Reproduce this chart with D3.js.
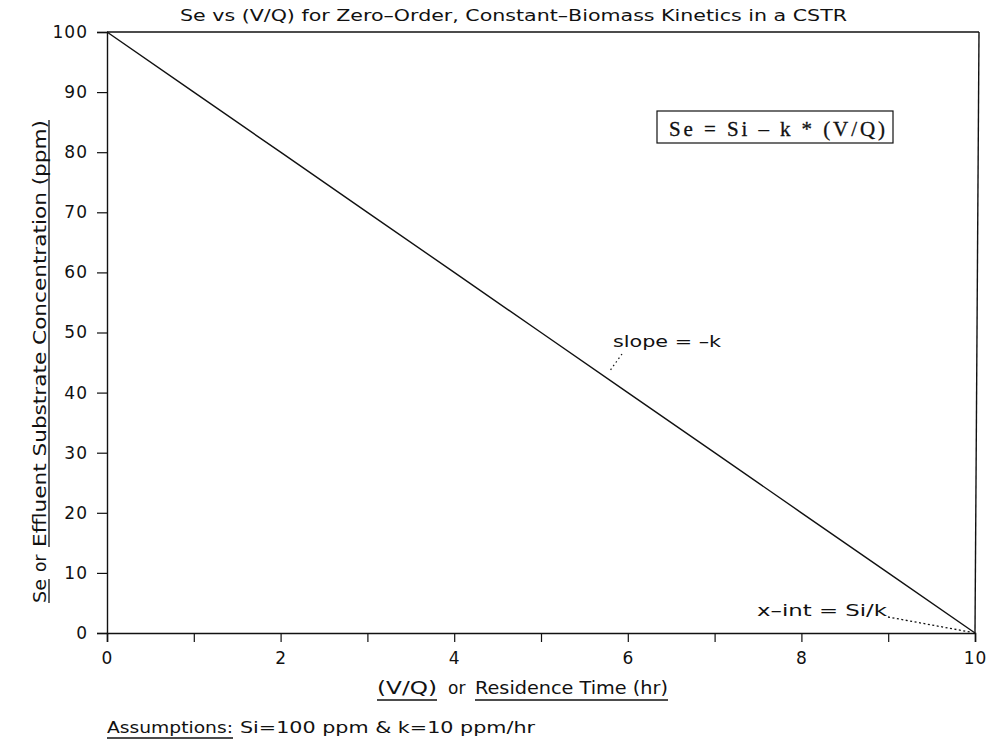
<!DOCTYPE html>
<html><head><meta charset="utf-8">
<script src="https://cdn.jsdelivr.net/npm/d3@7"></script>
<style>body{margin:0;background:#fff}svg{display:block}text{fill:#111}</style>
</head><body>
<svg id="c" width="990" height="747" font-family="DejaVu Sans, sans-serif"></svg>
<script>
const vq = [0,1,2,3,4,5,6,7,8,9,10];
const se = [100,90,80,70,60,50,40,30,20,10,0];
const xTickValues = [0,1,2,3,4,5,6,7,8,9,10];
const xTickLabels = ["0","","2","","4","","6","","8","","10"];
const yTickValues = [0,10,20,30,40,50,60,70,80,90,100];

const svg = d3.select("#c");
const x = d3.scaleLinear().domain([0,10]).range([107,975]);
const y = d3.scaleLinear().domain([0,100]).range([633,32]);
const ink = "#111";

// frame (top + right)
svg.append("line").attr("x1",x(0)).attr("x2",x(10)+4).attr("y1",y(100)).attr("y2",y(100)).attr("stroke",ink).attr("stroke-width",1.6);
svg.append("line").attr("x1",x(10)+4).attr("x2",x(10)).attr("y1",y(100)).attr("y2",y(0)).attr("stroke",ink).attr("stroke-width",1.4);

// axes
const xAxis = d3.axisBottom(x).tickValues(xTickValues).tickSize(9).tickPadding(10)
  .tickFormat((d,i)=>xTickLabels[i]);
const gx = svg.append("g").attr("transform",`translate(0,${y(0)})`).call(xAxis);
gx.attr("font-family","DejaVu Sans, sans-serif").attr("font-size",17);
gx.select(".domain").attr("stroke",ink).attr("stroke-width",1.6);
gx.selectAll(".tick line").attr("stroke",ink).attr("stroke-width",1.2);
gx.selectAll(".tick text").attr("fill",ink).attr("letter-spacing",1);

const yAxis = d3.axisLeft(y).tickValues(yTickValues).tickSize(10).tickPadding(9);
const gy = svg.append("g").attr("transform",`translate(${x(0)},0)`).call(yAxis);
gy.attr("font-family","DejaVu Sans, sans-serif").attr("font-size",17);
gy.select(".domain").attr("stroke",ink).attr("stroke-width",1.4);
gy.selectAll(".tick line").attr("stroke",ink).attr("stroke-width",1.2);
gy.selectAll(".tick text").attr("fill",ink).attr("letter-spacing",1);

// data line
const line = d3.line().x((d,i)=>x(vq[i])).y(d=>y(d));
svg.append("path").datum(se).attr("d",line).attr("fill","none").attr("stroke",ink).attr("stroke-width",1.4);

// title
svg.append("text").attr("x",180).attr("y",21).attr("font-size",16).attr("textLength",667).attr("lengthAdjust","spacingAndGlyphs")
  .text("Se vs (V/Q) for Zero\u2013Order, Constant\u2013Biomass Kinetics in a CSTR");

// helper for underlined segments
function seg(txt, x0, x1, yb, size, underline, ul){
  svg.append("text").attr("x",x0).attr("y",yb).attr("font-size",size)
    .attr("textLength",x1-x0).attr("lengthAdjust","spacingAndGlyphs").text(txt);
  if(underline) svg.append("line").attr("x1",x0).attr("x2",x1).attr("y1",ul).attr("y2",ul).attr("stroke",ink).attr("stroke-width",1.3);
}
// x label
seg("(V/Q)",377,437,694,17,true,700);
svg.append("text").attr("x",448).attr("y",694).attr("font-size",17).text("or");
seg("Residence Time (hr)",475,668,694,17,true,700);
// assumptions
seg("Assumptions:",107,233,733,15,true,738);
seg("Si=100 ppm & k=10 ppm/hr",240,535,733,15,false);

// y label (rotated)
function vseg(txt, yBottom, yTop, underline){
  const len = yBottom - yTop;
  const t = svg.append("text").attr("transform",`translate(46,${yBottom}) rotate(-90)`).attr("font-size",17).text(txt);
  if(len) t.attr("textLength",len).attr("lengthAdjust","spacingAndGlyphs");
  if(underline) svg.append("line").attr("x1",49).attr("x2",49).attr("y1",yBottom).attr("y2",yTop).attr("stroke",ink).attr("stroke-width",1.3);
}
vseg("Se",603,579,true);
svg.append("text").attr("transform",`translate(46,572) rotate(-90)`).attr("font-size",17).text("or");
vseg("Effluent Substrate Concentration (ppm)",547,120,true);

// equation box
svg.append("rect").attr("x",657).attr("y",111).attr("width",236).attr("height",32).attr("fill","none").attr("stroke",ink).attr("stroke-width",1.2);
svg.append("text").attr("x",669).attr("y",136).attr("font-size",21).attr("font-family","Liberation Serif, serif")
  .attr("stroke",ink).attr("stroke-width",0.3)
  .attr("textLength",216).attr("lengthAdjust","spacing").text("Se = Si \u2013 k * (V/Q)");

// slope annotation
svg.append("text").attr("x",613).attr("y",347).attr("font-size",15).attr("textLength",108).attr("lengthAdjust","spacingAndGlyphs").text("slope = \u2013k");
svg.append("line").attr("x1",622).attr("y1",354).attr("x2",609).attr("y2",372).attr("stroke",ink).attr("stroke-width",1.2).attr("stroke-dasharray","1.5,3");

// x-int annotation
svg.append("text").attr("x",757).attr("y",616).attr("font-size",15).attr("textLength",130).attr("lengthAdjust","spacingAndGlyphs").text("x\u2013int = Si/k");
svg.append("line").attr("x1",888).attr("y1",617).attr("x2",970).attr("y2",632).attr("stroke",ink).attr("stroke-width",1.3).attr("stroke-dasharray","2,2.5");
</script>
</body></html>
